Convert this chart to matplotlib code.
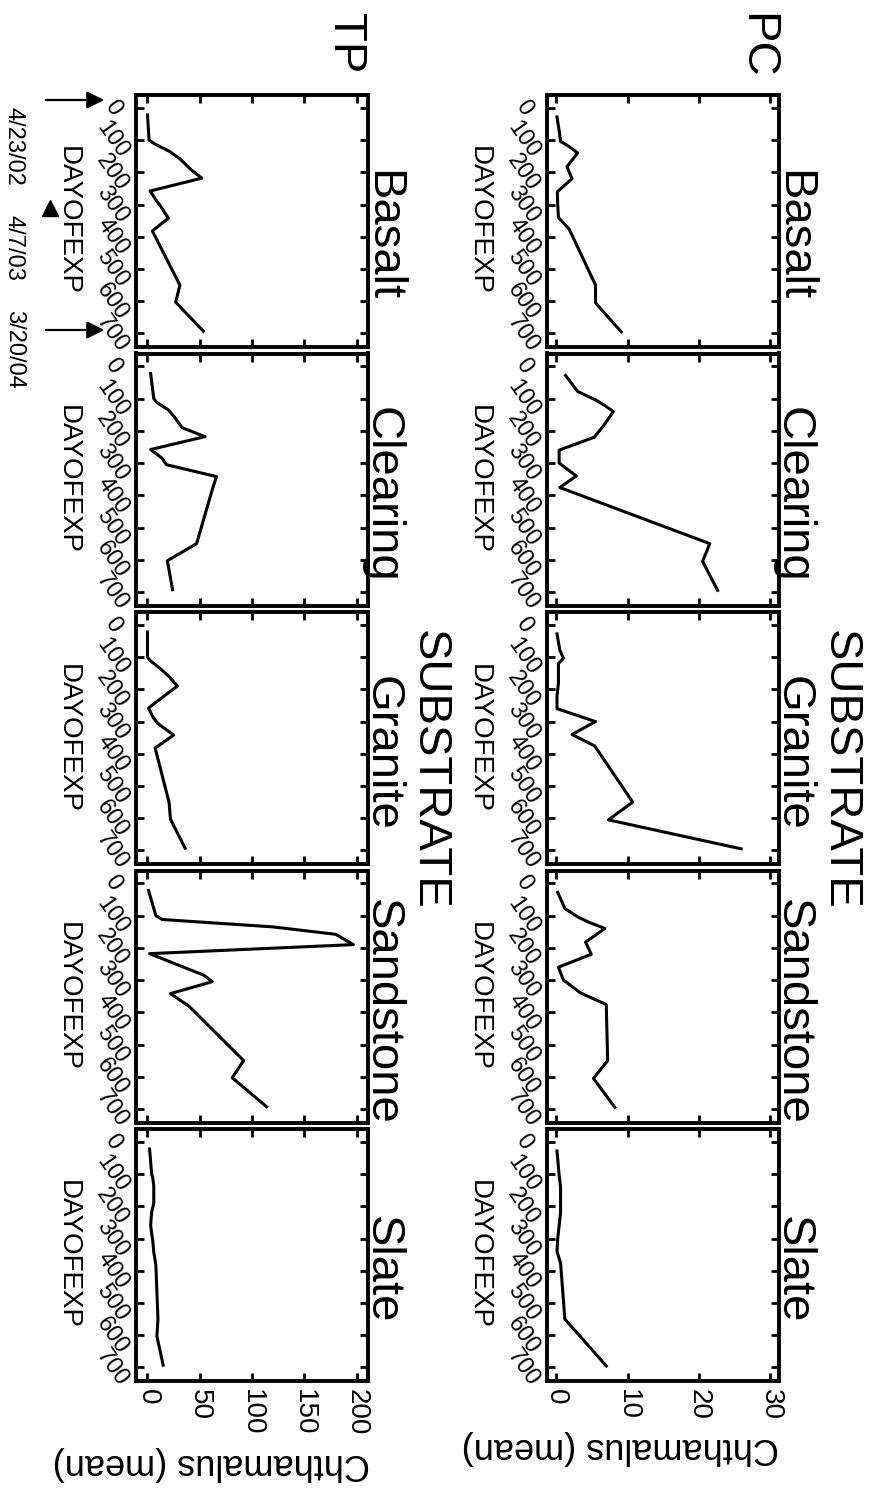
import matplotlib
matplotlib.use("Agg")
import matplotlib.pyplot as plt
from matplotlib.lines import Line2D
from matplotlib.patches import FancyArrowPatch

plt.rcParams['font.family'] = ['Liberation Sans', 'DejaVu Sans']

# ---- data -------------------------------------------------------------
substrates = ["Basalt", "Clearing", "Granite", "Sandstone", "Slate"]
sites = ["PC", "TP"]

day_ticks = [0, 100, 200, 300, 400, 500, 600, 700]
pc_value_ticks = [0, 10, 20, 30]
tp_value_ticks = [0, 50, 100, 150, 200]

pc_days = [28, 78, 104, 120, 140, 182, 220, 260, 300, 340, 376, 550, 605, 695]
pc_basalt = [0.1, 0.45, 0.6, 1.8, 3.0, 1.5, 2.2, 0.15, 0.2, 0.3, 1.8, 5.5, 5.5, 9.1]
pc_clearing = [1.3, 3.0, 5.5, 6.7, 8.0, 6.7, 5.3, 0.4, 0.4, 2.8, 0.5, 21.5, 20.5, 22.6]
pc_granite = [0.1, 0.5, 1.0, 0.3, 0.3, 0.3, 0.1, 0.1, 5.5, 2.2, 5.4, 10.7, 7.3, 25.9]
pc_sandstone = [0.2, 1.2, 3.0, 4.5, 6.8, 4.1, 4.9, 0.3, 1.0, 3.4, 7.0, 7.2, 5.2, 8.2]
pc_slate = [0.1, 0.3, 0.4, 0.5, 0.6, 0.6, 0.6, 0.4, 0.2, 0.1, 0.6, 1.2, 3.4, 7.0]

tp_days = [22, 100, 112, 135, 158, 190, 218, 258, 285, 305, 342, 382, 550, 603, 693]
tp_basalt = [0, 1.5, 7, 21, 31, 41, 52, 2.5, 8, 12.5, 20, 4.7, 31, 27, 53.5]
tp_clearing = [3, 6, 9, 20, 26, 33, 55, 3, 14, 18, 66, 62, 47, 19, 24]
tp_granite = [0, 0, 3, 12, 20, 28.6, 17, 1, 5, 9.5, 25, 7.3, 20.6, 22, 36]
tp_sandstone = [1, 8, 14, 120, 180, 197, 2, 33, 54, 62, 22, 40, 92, 81, 114]
tp_slate = [2, 4, 5, 6, 6, 6, 4, 3, 4, 5, 6, 8, 10, 9, 15]

series = {
    "PC": (pc_days, [pc_basalt, pc_clearing, pc_granite, pc_sandstone, pc_slate]),
    "TP": (tp_days, [tp_basalt, tp_clearing, tp_granite, tp_sandstone, tp_slate]),
}
value_ticks = {"PC": pc_value_ticks, "TP": tp_value_ticks}
value_lims = {"PC": (-1.3, 31.2), "TP": (-11, 211)}
day_lim = (742, -40)

date_labels = ["4/23/02", "4/7/03", "3/20/04"]

# ---- layout (pixels) --------------------------------------------------
W, H = 880, 1492
fig = plt.figure(figsize=(W / 100, H / 100), dpi=100)

col_left = {"PC": 547, "TP": 136}
box_w, box_h = 232, 252
row_top = [95 + k * 258.5 for k in range(5)]

TITLE_FS = 34
AXLAB_FS = 20
DAYTICK_FS = 17
VALTICK_FS = 20


def fx(x):
    return x / W


def fy(y):
    return 1 - y / H


def rot_text(x, y, s, size, ha="center", rotation=-90, va="baseline"):
    fig.text(fx(x), fy(y), s, fontsize=size, rotation=rotation,
             rotation_mode="anchor", ha=ha, va=va, color="black")


for site in sites:
    days, vals_list = series[site]
    left = col_left[site]
    for k, (name, vals) in enumerate(zip(substrates, vals_list)):
        top = row_top[k]
        ax = fig.add_axes([fx(left), fy(top + box_h), box_w / W, box_h / H])
        ax.plot(vals, days, color="black", lw=2.2)
        ax.set_xlim(*value_lims[site])
        ax.set_ylim(*day_lim)
        ax.set_xticks(value_ticks[site])
        ax.set_yticks(day_ticks)
        for sp in ax.spines.values():
            sp.set_linewidth(2.8)
        ax.tick_params(direction="in", top=True, right=True, length=6,
                       width=2.0, colors="black")
        ax.set_yticklabels([str(d) for d in day_ticks], rotation=-55,
                           ha="center", va="center", fontsize=DAYTICK_FS)
        ax.tick_params(axis="y", pad=17)
        if k == len(substrates) - 1:
            ax.set_xticklabels([str(v) for v in value_ticks[site]],
                               rotation=-90, fontsize=VALTICK_FS)
            ax.tick_params(axis="x", pad=6)
        else:
            ax.tick_params(axis="x", labelbottom=False)

        # panel title (substrate) and day-axis label
        rot_text(left + box_w + 2, top + box_h / 2 + 15, name, TITLE_FS)
        rot_text(left - 75, top + box_h / 2, "DAYOFEXP", AXLAB_FS)

    right = left + box_w
    rot_text(right + 49, 770, "SUBSTRATE", TITLE_FS)
    rot_text(right - 35, 13, site, TITLE_FS, ha="left")

# value-axis labels
fig.text(fx(620), fy(1448), "Chthamalus (mean)", fontsize=26, rotation=180,
         rotation_mode="anchor", ha="center", va="center")
fig.text(fx(211), fy(1463), "Chthamalus (mean)", fontsize=26, rotation=180,
         rotation_mode="anchor", ha="center", va="center")

# sampling-date markers beside the first TP panel
for y in (100, 330):
    fig.add_artist(FancyArrowPatch(
        (fx(43), fy(y)), (fx(107), fy(y)), transform=fig.transFigure,
        arrowstyle="-|>", mutation_scale=26, lw=1.6, color="black"))
fig.add_artist(Line2D([fx(50)], [fy(208)], transform=fig.transFigure,
                      marker="^", ms=11, color="black", ls="none"))
for y, s in zip((107, 215, 310), date_labels):
    rot_text(8, y, s, 17, ha="left")

fig.savefig("out.png", dpi=100, facecolor="white")
